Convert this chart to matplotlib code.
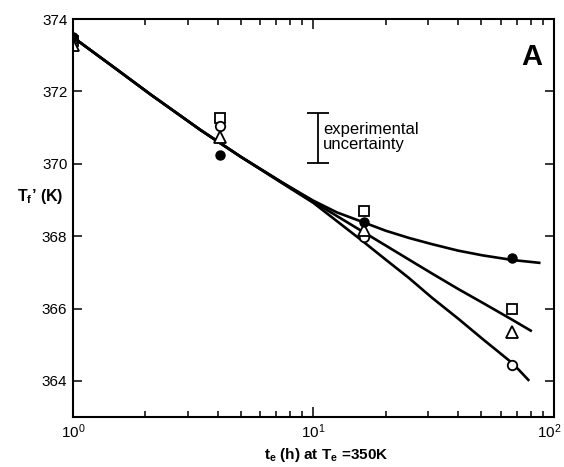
import matplotlib
matplotlib.use("Agg")
import matplotlib.pyplot as plt
from matplotlib.transforms import ScaledTranslation

plt.rcParams['font.family'] = ['Liberation Sans', 'DejaVu Sans']
plt.rcParams['mathtext.fontset'] = 'custom'
plt.rcParams['mathtext.rm'] = 'Liberation Sans'
plt.rcParams['mathtext.it'] = 'Liberation Sans:italic'
plt.rcParams['mathtext.bf'] = 'Liberation Sans:bold'

# aging times (h) at Te = 350 K
t_e = [1.0, 4.1, 16.2, 66.7]

# measured fictive temperatures Tf' (K)
tf_filled_circle = [373.52, 370.24, 368.40, 367.41]
tf_open_circle = [373.45, 371.04, 367.97, 364.43]
tf_square = [373.40, 371.26, 368.69, 365.98]
tf_triangle = [373.28, 370.74, 368.17, 365.35]

# model curves
t_upper = [1.0, 1.5, 2.1, 3.4, 5.0, 7.35, 10.0, 12.5, 15.9, 20.0, 25.0, 31.1, 40.0, 50.5, 67.5, 88.0]
tf_upper = [373.50, 372.64, 371.92, 370.93, 370.19, 369.50, 368.98, 368.66, 368.40, 368.15,
            367.95, 367.78, 367.60, 367.47, 367.34, 367.26]
t_middle = [1.0, 1.5, 2.1, 3.4, 5.0, 7.35, 10.0, 12.5, 15.9, 20.0, 25.0, 31.1, 40.0, 50.5, 67.5, 81.0]
tf_middle = [373.50, 372.64, 371.92, 370.93, 370.19, 369.50, 368.95, 368.56, 368.14, 367.74,
             367.35, 366.97, 366.54, 366.16, 365.68, 365.37]
t_lower = [1.0, 1.5, 2.1, 3.4, 5.0, 7.35, 10.0, 12.5, 15.9, 20.0, 25.0, 31.1, 40.0, 50.5, 67.5, 79.0]
tf_lower = [373.50, 372.64, 371.92, 370.93, 370.19, 369.48, 368.92, 368.42, 367.88, 367.35,
            366.84, 366.30, 365.72, 365.16, 364.48, 364.00]

x_ticks = [1, 10, 100]
x_ticklabels = [r'$10^{0}$', r'$10^{1}$', r'$10^{2}$']
y_ticks = [364, 366, 368, 370, 372, 374]

# experimental uncertainty bar
unc_t = 10.4
unc_center = 370.71
unc_half = 0.69

fig = plt.figure(figsize=(5.64, 4.67), dpi=100)
ax = fig.add_axes([0.1294, 0.107, 0.8526, 0.852])

for t, tf in [(t_upper, tf_upper), (t_middle, tf_middle), (t_lower, tf_lower)]:
    ax.plot(t, tf, color='black', lw=1.9, solid_capstyle='butt', solid_joinstyle='round')

ax.plot(t_e, tf_square, ls='none', marker='s', ms=6.5, mfc='white', mec='black', mew=1.3)
ax.plot(t_e, tf_open_circle, ls='none', marker='o', ms=6.8, mfc='white', mec='black', mew=1.3)
ax.plot(t_e, tf_triangle, ls='none', marker='^', ms=9, mfc='white', mec='black', mew=1.3)
ax.plot(t_e, tf_filled_circle, ls='none', marker='o', ms=6.5, mfc='black', mec='black')

ax.errorbar([unc_t], [unc_center], yerr=[unc_half], fmt='none', ecolor='black',
            elinewidth=1.3, capsize=8, capthick=1.3)
ax.text(10.95, 370.74, 'experimental\nuncertainty', fontsize=12, va='center', ha='left',
        linespacing=1.05)

ax.text(0.955, 0.905, 'A', transform=ax.transAxes, fontsize=21, fontweight='bold',
        ha='center', va='center')

ax.set_xscale('log')
ax.set_xlim(1, 100)
ax.set_ylim(363, 374)
ax.set_xticks(x_ticks, labels=x_ticklabels)
ax.set_yticks(y_ticks)

for s in ax.spines.values():
    s.set_linewidth(1.5)

ax.tick_params(which='both', direction='in', top=True, right=True, width=1.1,
               labelsize=11)
ax.tick_params(which='major', length=7, pad=4)
ax.tick_params(which='minor', length=4.5)
ax.tick_params(axis='y', which='major', length=6.5)

ax.set_ylabel(r'$\mathbf{T_f}$’ (K)', fontsize=11.5, fontweight='bold', rotation=0,
              ha='center', va='center')
ax.yaxis.set_label_coords(-0.069, 0.555)
ax.set_xlabel(r'$\mathbf{t_e}$ (h) at $\mathbf{T_e}$ =350K', fontsize=11, fontweight='bold',
              ha='center', va='center')
ax.xaxis.set_label_coords(0.526, -0.095)

# keep the 10^2 label inside the canvas
last = ax.get_xticklabels()[-1]
last.set_horizontalalignment('right')
last.set_transform(last.get_transform() + ScaledTranslation(8 / 100, 0, fig.dpi_scale_trans))

fig.savefig('out.png', dpi=100)
